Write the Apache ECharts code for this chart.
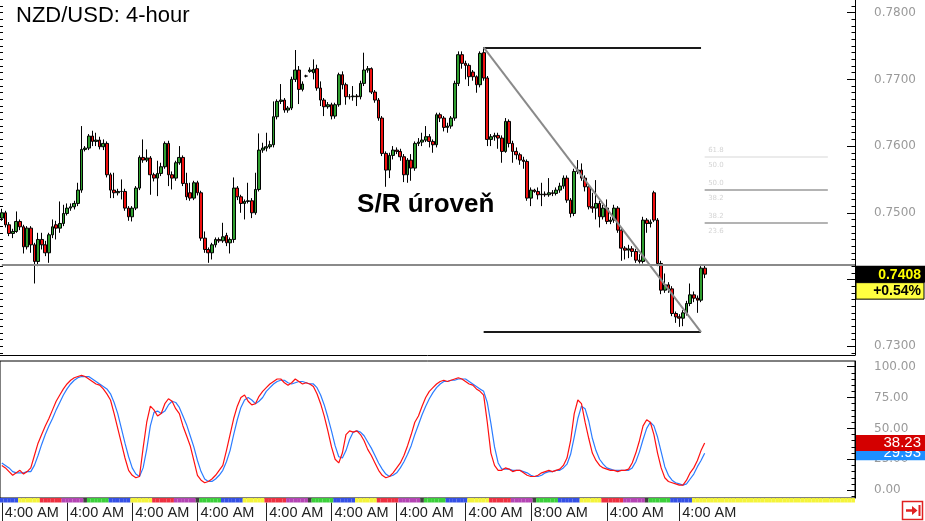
<!DOCTYPE html>
<html><head><meta charset="utf-8">
<script src="https://cdn.jsdelivr.net/npm/echarts@6/dist/echarts.min.js"></script>
<style>html,body{margin:0;padding:0;background:#fff}#c{width:925px;height:521px}</style>
</head><body><div id="c"></div>
<script>
// ---------- data ----------
const slotCount = 236; // candle slots across the visible time axis (incl. empty future area)
// [open, close, low, high]
const ohlc = [
[0.7492,0.7500,0.7488,0.7506],[0.7500,0.7482,0.7478,0.7503],[0.7482,0.7469,0.7465,0.7486],[0.7469,0.7472,0.7462,0.7476],
[0.7472,0.7487,0.7470,0.7502],[0.7487,0.7479,0.7474,0.7490],[0.7479,0.7449,0.7439,0.7482],[0.7449,0.7477,0.7445,0.7480],
[0.7477,0.7452,0.7440,0.7480],[0.7452,0.7427,0.7394,0.7455],[0.7427,0.7460,0.7420,0.7470],[0.7460,0.7452,0.7445,0.7470],
[0.7452,0.7440,0.7435,0.7458],[0.7440,0.7467,0.7425,0.7470],[0.7467,0.7479,0.7462,0.7490],[0.7482,0.7477,0.7460,0.7488],
[0.7477,0.7484,0.7470,0.7517],[0.7484,0.7499,0.7480,0.7512],[0.7499,0.7507,0.7496,0.7514],[0.7507,0.7509,0.7503,0.7514],
[0.7509,0.7514,0.7505,0.7518],[0.7514,0.7534,0.7510,0.7545],[0.7534,0.7595,0.7530,0.7630],[0.7595,0.7597,0.7592,0.7600],
[0.7597,0.7615,0.7594,0.7618],[0.7615,0.7607,0.7600,0.7623],[0.7607,0.7609,0.7600,0.7620],[0.7609,0.7599,0.7595,0.7614],
[0.7599,0.7604,0.7594,0.7610],[0.7604,0.7557,0.7553,0.7607],[0.7557,0.7534,0.7522,0.7560],[0.7534,0.7530,0.7522,0.7560],
[0.7530,0.7532,0.7526,0.7536],[0.7532,0.7532,0.7520,0.7550],[0.7532,0.7507,0.7503,0.7536],[0.7507,0.7494,0.7488,0.7510],
[0.7494,0.7507,0.7487,0.7510],[0.7507,0.7537,0.7504,0.7540],[0.7537,0.7583,0.7534,0.7586],[0.7583,0.7579,0.7575,0.7610],
[0.7579,0.7582,0.7576,0.7595],[0.7582,0.7557,0.7527,0.7585],[0.7557,0.7552,0.7547,0.7560],[0.7552,0.7559,0.7525,0.7578],
[0.7559,0.7569,0.7555,0.7575],[0.7569,0.7604,0.7566,0.7607],[0.7604,0.7557,0.7540,0.7608],[0.7557,0.7552,0.7535,0.7562],
[0.7552,0.7575,0.7548,0.7578],[0.7575,0.7583,0.7572,0.7600],[0.7583,0.7544,0.7540,0.7586],[0.7544,0.7524,0.7519,0.7560],
[0.7530,0.7522,0.7518,0.7545],[0.7522,0.7545,0.7519,0.7548],[0.7545,0.7530,0.7526,0.7548],[0.7530,0.7462,0.7458,0.7533],
[0.7462,0.7445,0.7440,0.7472],[0.7445,0.7440,0.7425,0.7448],[0.7440,0.7452,0.7430,0.7455],[0.7452,0.7460,0.7448,0.7463],
[0.7460,0.7458,0.7455,0.7463],[0.7458,0.7464,0.7455,0.7485],[0.7466,0.7455,0.7450,0.7470],[0.7455,0.7460,0.7439,0.7463],
[0.7460,0.7537,0.7455,0.7553],[0.7537,0.7524,0.7519,0.7540],[0.7524,0.7514,0.7500,0.7527],[0.7514,0.7517,0.7490,0.7520],
[0.7517,0.7518,0.7514,0.7545],[0.7518,0.7500,0.7492,0.7522],[0.7500,0.7535,0.7497,0.7560],[0.7535,0.7594,0.7532,0.7619],
[0.7594,0.7597,0.7590,0.7605],[0.7597,0.7599,0.7592,0.7620],[0.7599,0.7602,0.7596,0.7608],[0.7602,0.7644,0.7598,0.7667],
[0.7644,0.7667,0.7640,0.7670],[0.7667,0.7669,0.7663,0.7693],[0.7669,0.7654,0.7650,0.7672],[0.7654,0.7657,0.7650,0.7660],
[0.7657,0.7700,0.7654,0.7704],[0.7700,0.7714,0.7696,0.7744],[0.7714,0.7685,0.7663,0.7720],[0.7685,0.7693,0.7682,0.7697],
[0.7705,0.7705,0.7703,0.7707],[0.7712,0.7714,0.7710,0.7718],[0.7710,0.7715,0.7700,0.7730],[0.7716,0.7687,0.7683,0.7722],
[0.7687,0.7669,0.7660,0.7697],[0.7669,0.7659,0.7645,0.7672],[0.7659,0.7662,0.7656,0.7666],[0.7662,0.7645,0.7640,0.7665],
[0.7645,0.7662,0.7641,0.7665],[0.7662,0.7707,0.7659,0.7710],[0.7707,0.7692,0.7685,0.7712],[0.7692,0.7674,0.7662,0.7695],
[0.7674,0.7674,0.7670,0.7678],[0.7674,0.7675,0.7668,0.7690],[0.7675,0.7674,0.7660,0.7678],[0.7674,0.7694,0.7670,0.7698],
[0.7694,0.7714,0.7690,0.7740],[0.7714,0.7716,0.7710,0.7720],[0.7716,0.7681,0.7678,0.7718],[0.7681,0.7669,0.7665,0.7684],
[0.7669,0.7642,0.7638,0.7672],[0.7642,0.7589,0.7585,0.7645],[0.7589,0.7564,0.7539,0.7592],[0.7564,0.7586,0.7552,0.7590],
[0.7586,0.7594,0.7580,0.7600],[0.7594,0.7592,0.7588,0.7598],[0.7592,0.7584,0.7578,0.7596],[0.7584,0.7557,0.7546,0.7588],
[0.7557,0.7579,0.7545,0.7582],[0.7579,0.7567,0.7548,0.7588],[0.7567,0.7604,0.7563,0.7607],[0.7604,0.7606,0.7600,0.7612],
[0.7606,0.7609,0.7600,0.7620],[0.7609,0.7614,0.7606,0.7630],[0.7614,0.7607,0.7598,0.7618],[0.7607,0.7602,0.7590,0.7610],
[0.7602,0.7647,0.7598,0.7650],[0.7647,0.7642,0.7636,0.7650],[0.7642,0.7628,0.7622,0.7645],[0.7628,0.7630,0.7620,0.7635],
[0.7630,0.7642,0.7626,0.7645],[0.7642,0.7694,0.7638,0.7698],[0.7694,0.7737,0.7690,0.7742],[0.7737,0.7724,0.7716,0.7742],
[0.7724,0.7721,0.7700,0.7728],[0.7721,0.7704,0.7690,0.7724],[0.7711,0.7704,0.7698,0.7714],[0.7704,0.7692,0.7680,0.7706],
[0.7692,0.7739,0.7688,0.7742],[0.7740,0.7702,0.7698,0.7748],[0.7702,0.7610,0.7600,0.7705],[0.7610,0.7614,0.7600,0.7618],
[0.7614,0.7616,0.7608,0.7620],[0.7616,0.7612,0.7596,0.7620],[0.7612,0.7592,0.7575,0.7616],[0.7592,0.7637,0.7590,0.7642],
[0.7637,0.7604,0.7598,0.7640],[0.7604,0.7592,0.7575,0.7608],[0.7592,0.7587,0.7580,0.7598],[0.7587,0.7579,0.7572,0.7590],
[0.7579,0.7577,0.7566,0.7584],[0.7577,0.7522,0.7518,0.7580],[0.7522,0.7534,0.7510,0.7538],[0.7534,0.7532,0.7530,0.7536],
[0.7532,0.7527,0.7520,0.7538],[0.7527,0.7528,0.7510,0.7545],[0.7528,0.7527,0.7524,0.7532],[0.7527,0.7530,0.7524,0.7552],
[0.7530,0.7529,0.7525,0.7534],[0.7529,0.7534,0.7526,0.7538],[0.7534,0.7540,0.7530,0.7545],[0.7540,0.7552,0.7536,0.7556],
[0.7552,0.7519,0.7515,0.7556],[0.7519,0.7499,0.7493,0.7522],[0.7499,0.7562,0.7495,0.7566],[0.7562,0.7564,0.7558,0.7579],
[0.7564,0.7552,0.7548,0.7574],[0.7552,0.7539,0.7532,0.7556],[0.7539,0.7509,0.7505,0.7542],[0.7509,0.7507,0.7500,0.7530],
[0.7507,0.7514,0.7490,0.7549],[0.7514,0.7494,0.7478,0.7518],[0.7494,0.7507,0.7490,0.7512],[0.7507,0.7487,0.7483,0.7520],
[0.7487,0.7489,0.7483,0.7494],[0.7489,0.7507,0.7485,0.7512],[0.7507,0.7474,0.7470,0.7510],[0.7474,0.7447,0.7428,0.7478],
[0.7447,0.7444,0.7430,0.7450],[0.7444,0.7446,0.7432,0.7452],[0.7446,0.7442,0.7434,0.7450],[0.7442,0.7429,0.7425,0.7446],
[0.7429,0.7427,0.7424,0.7438],[0.7427,0.7489,0.7424,0.7494],[0.7489,0.7484,0.7470,0.7492],[0.7484,0.7486,0.7478,0.7490],
[0.7530,0.7489,0.7486,0.7533],[0.7489,0.7424,0.7420,0.7492],[0.7424,0.7384,0.7378,0.7428],[0.7384,0.7392,0.7380,0.7409],
[0.7392,0.7386,0.7380,0.7396],[0.7386,0.7349,0.7345,0.7390],[0.7349,0.7344,0.7335,0.7352],[0.7344,0.7342,0.7329,0.7348],
[0.7342,0.7350,0.7330,0.7354],[0.7350,0.7364,0.7346,0.7368],[0.7364,0.7377,0.7360,0.7394],[0.7377,0.7372,0.7366,0.7382],
[0.7372,0.7369,0.7350,0.7376],[0.7369,0.7417,0.7366,0.7420],[0.7417,0.7408,0.7402,0.7422]
];
const stochK = [20,18,15,12,14,16,13,15,18,28, 38,45,52,58,65,72,77,82,86,89, 91,92,93,92,90,88,86,85,82,78,
 73,62,50,38,26,16,12,10,11,34, 55,68,65,60,62,70,74,72,66,62, 52,44,36,24,12,8,6,7,9,12,
 16,20,32,45,58,68,75,77,72,69, 70,76,80,83,86,88,90,90,87,85, 87,90,88,86,87,86,84,78,70,60,
 48,35,25,22,30,45,48,47,48,45, 40,33,28,22,16,12,10,11,14,18, 22,28,36,45,55,60,68,75,80,83,
 86,88,89,88,89,90,91,90,88,86, 85,82,80,77,55,30,20,16,16,18, 17,15,16,16,14,12,11,11,12,14,
 15,16,15,16,17,20,26,40,62,73, 70,55,42,30,24,20,18,17,16,16, 15,16,16,17,22,30,40,52,57,55,
 45,30,18,10,7,6,5,4,4,8, 14,18,24,32,38.23];
const stochD = [22,20,18,15,14,14,14,15,15,20, 28,37,45,52,58,65,71,77,82,86, 89,91,92,92,92,90,88,86,84,82,
 78,71,62,50,38,27,18,13,11,18, 33,52,63,64,62,64,69,72,71,67, 60,53,44,35,24,15,9,7,7,9,
 12,16,23,32,45,57,67,73,75,73, 70,72,75,80,83,86,88,89,89,87, 86,87,88,88,87,86,86,83,77,69,
 59,48,36,27,26,32,41,47,48,47, 44,39,34,28,22,17,13,11,12,14, 18,23,29,36,45,53,61,68,74,79,
 83,86,88,88,89,89,90,90,90,88, 86,84,82,80,71,54,35,22,17,17, 17,16,16,16,15,14,12,11,11,12,
 14,15,15,16,16,18,21,29,43,58, 68,66,56,42,32,25,21,18,17,16, 16,16,16,16,18,23,31,41,50,55,
 52,43,31,19,12,8,6,5,4,5, 9,13,19,24,29.93];
const priceLabels = [0.73, 0.75, 0.76, 0.77, 0.78];
const priceMajor = [0.73, 0.74, 0.75, 0.76, 0.77, 0.78];
const stochLabels = [0, 25, 50, 75, 100];
const timeLabels = ['4:00 AM','4:00 AM','4:00 AM','4:00 AM','4:00 AM','4:00 AM','4:00 AM','4:00 AM','8:00 AM','4:00 AM','4:00 AM'];
const timeLabelSlots = [0, 18, 36, 54, 73, 91, 109, 128, 146, 167, 187];
// day colour bands: [day, firstSlot, lastSlot]
const dayBands = [
['blue',0,4],['yellow',5,10],['red',11,16],['magenta',17,22],['dark',23,23],['green',24,29],
['blue',30,35],['yellow',36,41],['red',42,47],['magenta',48,53],['dark',54,54],['green',55,60],
['blue',61,66],['yellow',67,72],['red',73,78],['magenta',79,84],['dark',85,85],['green',86,91],
['blue',92,97],['yellow',98,103],['red',104,109],['magenta',110,115],['dark',116,116],['green',117,122],
['blue',123,128],['yellow',129,134],['red',135,140],['magenta',141,146],['dark',147,147],['green',148,153],
['blue',154,159],['yellow',160,165],['red',166,171],['magenta',172,177],['dark',178,178],['green',179,184],
['blue',185,190],['yellow',191,235]
];
const lastPrice = 0.7408;
const changeText = '+0.54%';
const srLevel = 0.7422;
const srText = 'S/R úroveň';
const srTextAt = [117, 0.7512];
const swingHigh = 0.7748, swingLow = 0.7321, swingStartSlot = 133, swingEndSlot = 193;
const fibLevels = [0.75837, 0.75342, 0.74847];
const fibStartSlot = 194, fibEndSlot = 228;
const fibTexts = [['61.8','50.0'],['50.0','38.2'],['38.2','23.6']];

// ---------- build ----------
const dayColors = {yellow:'#f4f43a', red:'#ee3040', magenta:'#b444b4', dark:'#404040', green:'#3ad03a', blue:'#3450e6'};
const cats = []; for (let i = 0; i < slotCount; i++) cats.push(String(i));
const labelMap = {}; timeLabelSlots.forEach((s, k) => { labelMap[s] = timeLabels[k]; });
const bandData = [];
dayBands.forEach(b => { for (let i = b[1]; i <= b[2]; i++) bandData.push({value: 1, itemStyle: {color: dayColors[b[0]]}}); });

const pMin = 0.72868, pMax = 0.7819, sMin = -6.4, sMax = 104.6;
const priceMinor = []; for (let k = 729; k <= 781; k++) { if (k % 10) priceMinor.push(k / 1000); }
const stochMinor = []; for (let k = -5; k <= 100; k += 5) { if (k % 25) stochMinor.push(k); }
const lblFont = {color: '#9a9a9a', fontSize: 12, fontFamily: 'DejaVu Sans'};

const fibLines = [];
fibLevels.forEach((lv, i) => {
  fibLines.push([{coord: [fibStartSlot, lv], lineStyle: {color: i === 0 ? '#e4e4e4' : '#9a9a9a', width: 1.5, type: 'solid'}}, {coord: [fibEndSlot, lv]}]);
});
const fibLabelPts = [];
fibLevels.forEach((lv, i) => {
  fibLabelPts.push({coord: [fibStartSlot, lv], label: {formatter: fibTexts[i][0], offset: [0, -7]}});
  fibLabelPts.push({coord: [fibStartSlot, lv], label: {formatter: fibTexts[i][1], offset: [0, 8]}});
});

const chart = echarts.init(document.getElementById('c'), null, {renderer: 'canvas'});
const option = {
  animation: false,
  backgroundColor: '#fff',
  title: {text: 'NZD/USD: 4-hour', left: 11, top: 0, textStyle: {fontSize: 22, fontWeight: 'normal', color: '#000', fontFamily: 'Liberation Sans'}},
  grid: [
    {left: 0, right: 70, top: 0, height: 355, outerBoundsMode: 'none'},
    {left: 0, right: 70, top: 361, height: 137, show: true, borderColor: '#000', borderWidth: 1, outerBoundsMode: 'none'},
    {left: 0, right: 70, top: 498, height: 4.5, outerBoundsMode: 'none'}
  ],
  xAxis: [
    {type: 'category', gridIndex: 0, data: cats, boundaryGap: true, axisLabel: {show: false}, axisTick: {show: false}, axisLine: {show: true, lineStyle: {color: '#000', width: 1}}, splitLine: {show: false}},
    {type: 'category', gridIndex: 1, data: cats, boundaryGap: true, axisLabel: {show: false}, axisTick: {show: false}, axisLine: {show: false}, splitLine: {show: false}},
    {type: 'category', gridIndex: 2, data: cats, boundaryGap: true, axisLine: {show: false},
      axisTick: {show: true, alignWithLabel: true, length: 19, interval: (i) => labelMap[i] !== undefined, lineStyle: {color: '#222', width: 1}},
      axisLabel: {show: true, interval: (i) => labelMap[i] !== undefined, formatter: (v, i) => labelMap[i] || '', align: 'left', verticalAlign: 'top', margin: 3, padding: [0, 0, 0, 3], color: '#222', fontSize: 14.5, fontFamily: 'Liberation Sans'},
      splitLine: {show: false}}
  ],
  yAxis: [
    {type: 'value', gridIndex: 0, position: 'right', min: pMin, max: pMax, scale: true, splitLine: {show: false},
      axisLine: {show: true, lineStyle: {color: '#000', width: 1}},
      axisTick: {show: true, inside: true, length: 8, customValues: priceMajor, lineStyle: {color: '#000'}},
      axisLabel: Object.assign({show: true, margin: 19, customValues: priceLabels, formatter: v => v.toFixed(4)}, lblFont)},
    {type: 'value', gridIndex: 0, position: 'right', min: pMin, max: pMax, scale: true, splitLine: {show: false},
      axisLine: {show: false}, axisLabel: {show: false},
      axisTick: {show: true, inside: true, length: 3.5, customValues: priceMinor, lineStyle: {color: '#000'}}},
    {type: 'value', gridIndex: 0, position: 'left', min: pMin, max: pMax, scale: true, splitLine: {show: false},
      axisLine: {show: false}, axisLabel: {show: false},
      axisTick: {show: true, inside: true, length: 3, customValues: priceMinor.concat(priceMajor), lineStyle: {color: '#000'}}},
    {type: 'value', gridIndex: 1, position: 'right', min: sMin, max: sMax, splitLine: {show: false},
      axisLine: {show: true, lineStyle: {color: '#000', width: 1}},
      axisTick: {show: true, inside: true, length: 8, customValues: stochLabels, lineStyle: {color: '#000'}},
      axisLabel: Object.assign({show: true, margin: 19, customValues: stochLabels, formatter: v => v.toFixed(2)}, lblFont)},
    {type: 'value', gridIndex: 1, position: 'right', min: sMin, max: sMax, splitLine: {show: false},
      axisLine: {show: false}, axisLabel: {show: false},
      axisTick: {show: true, inside: true, length: 3.5, customValues: stochMinor, lineStyle: {color: '#000'}}},
    {type: 'value', gridIndex: 2, min: 0, max: 1, show: false}
  ],
  series: [
    {type: 'candlestick', xAxisIndex: 0, yAxisIndex: 0, data: ohlc, barWidth: 3.2,
      itemStyle: {color: '#2f9e2f', color0: '#f01010', borderColor: '#000', borderColor0: '#000', borderWidth: 1},
      markLine: {silent: true, symbol: ['none', 'none'], animation: false, precision: 6, label: {show: false},
        data: [
          [{coord: [0, srLevel], lineStyle: {color: '#8a8a8a', width: 2, type: 'solid'}}, {coord: [slotCount - 1, srLevel], x: 855}],
          [{coord: [swingStartSlot, swingHigh], lineStyle: {color: '#1a1a1a', width: 2, type: 'solid'}}, {coord: [swingEndSlot, swingHigh]}],
          [{coord: [swingStartSlot, swingLow], lineStyle: {color: '#1a1a1a', width: 2, type: 'solid'}}, {coord: [swingEndSlot, swingLow]}],
          [{coord: [swingStartSlot, swingHigh], lineStyle: {color: '#8a8a8a', width: 2, type: 'solid'}}, {coord: [swingEndSlot, swingLow]}]
        ].concat(fibLines)},
      markPoint: {silent: true, animation: false, symbol: 'rect', symbolSize: [1, 1], itemStyle: {color: 'rgba(0,0,0,0)'},
        data: [
          {coord: srTextAt, label: {show: true, position: 'inside', formatter: srText, fontSize: 26, fontWeight: 'bold', color: '#000', fontFamily: 'Liberation Sans'}}
        ].concat(fibLabelPts.map(p => ({coord: p.coord, label: Object.assign({show: true, position: 'right', distance: 3, color: '#d4d4d4', fontSize: 7, fontFamily: 'DejaVu Sans'}, p.label)})))}
    },
    {type: 'line', xAxisIndex: 1, yAxisIndex: 3, data: stochD, showSymbol: false, symbol: 'none', lineStyle: {color: '#2b7cff', width: 1.2}, z: 2},
    {type: 'line', xAxisIndex: 1, yAxisIndex: 3, data: stochK, showSymbol: false, symbol: 'none', lineStyle: {color: '#ff1010', width: 1.2}, z: 3},
    {type: 'bar', xAxisIndex: 2, yAxisIndex: 5, data: bandData, barWidth: '100%', barCategoryGap: 0, silent: true}
  ]
};
chart.setOption(option);

// badges on the right axis, positioned through the axes' scales
const yP = chart.convertToPixel({yAxisIndex: 0}, lastPrice);
const kLast = stochK[stochK.length - 1], dLast = stochD[stochD.length - 1];
const yK = chart.convertToPixel({yAxisIndex: 3}, kLast);
const yD = chart.convertToPixel({yAxisIndex: 3}, dLast);
const bx = 856, bw = 69, tx = 921;
chart.setOption({graphic: [
  {type: 'rect', z: 100, shape: {x: bx, y: yP - 8.5, width: bw, height: 17}, style: {fill: '#000'}},
  {type: 'text', z: 101, style: {text: lastPrice.toFixed(4), x: tx, y: yP + 0.5, align: 'right', verticalAlign: 'middle', fill: '#ffff00', font: 'bold 14px "Liberation Sans"'}},
  {type: 'rect', z: 100, shape: {x: bx, y: yP + 8.5, width: bw - 1, height: 16.5}, style: {fill: '#ffff40', stroke: '#000', lineWidth: 1}},
  {type: 'text', z: 101, style: {text: changeText, x: tx, y: yP + 17, align: 'right', verticalAlign: 'middle', fill: '#000', font: 'bold 14px "Liberation Sans"'}},
  {type: 'rect', z: 100, shape: {x: bx, y: yD - 7, width: bw, height: 14}, style: {fill: '#1e8fff'}},
  {type: 'text', z: 101, style: {text: dLast.toFixed(2), x: tx, y: yD, align: 'right', verticalAlign: 'middle', fill: '#fff', font: '15px "Liberation Sans"'}},
  {type: 'rect', z: 102, shape: {x: bx, y: yK - 8, width: bw, height: 16}, style: {fill: '#d40000'}},
  {type: 'text', z: 103, style: {text: kLast.toFixed(2), x: tx, y: yK, align: 'right', verticalAlign: 'middle', fill: '#fff', font: '15px "Liberation Sans"'}},
  {type: 'rect', z: 100, shape: {x: 902.5, y: 501.5, width: 20, height: 18}, style: {fill: '#fff', stroke: '#e02020', lineWidth: 1.5}},
  {type: 'line', z: 101, shape: {x1: 906, y1: 510.5, x2: 916, y2: 510.5}, style: {stroke: '#e02020', lineWidth: 2.5}},
  {type: 'polygon', z: 101, shape: {points: [[912, 506], [917.5, 510.5], [912, 515]]}, style: {fill: '#e02020'}},
  {type: 'line', z: 101, shape: {x1: 919.5, y1: 505, x2: 919.5, y2: 516}, style: {stroke: '#e02020', lineWidth: 2}}
]});
</script>
</body></html>
